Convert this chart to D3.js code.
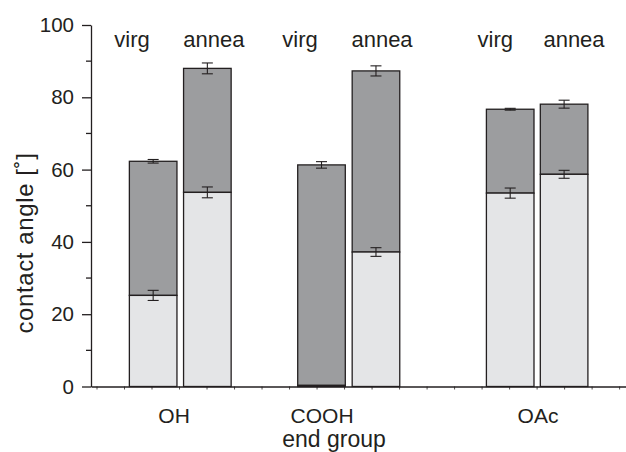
<!DOCTYPE html>
<html>
<head>
<meta charset="utf-8">
<script src="https://cdn.jsdelivr.net/npm/d3@7"></script>
<style>
  body { margin: 0; background: #fff; }
  text { font-family: "Liberation Sans", Arial, sans-serif; fill: #231f20; }
</style>
</head>
<body>
<svg id="chart" width="626" height="452"></svg>
<script>
// groups and bars
const groups = ['OH', 'COOH', 'OAc'];
const groupPos = [2.82, 8.2, 16.05];
const barNames = ['virg', 'annea', 'virg', 'annea', 'virg', 'annea'];
const barPos = [2.06, 4.03, 8.18, 10.16, 15.04, 17.0];
const namePos = [1.29, 4.27, 7.4, 10.38, 14.5, 17.36];

// light (lower) segment and its error
const lightVal = [25.2, 53.7, 0.3, 37.2, 53.5, 58.7];
const lightErr = [1.4, 1.5, 0, 1.2, 1.4, 1.1];
// total (dark top) and its error
const totalVal = [62.3, 88.0, 61.3, 87.3, 76.7, 78.1];
const totalErr = [0.5, 1.5, 0.9, 1.4, 0.25, 1.1];

const yTicks = [0, 20, 40, 60, 80, 100];
const yMinor = [10, 30, 50, 70, 90];

const COLORS = { dark: '#9c9d9f', light: '#e4e5e7', line: '#231f20' };

const M = { left: 91, right: 626, top: 25, bottom: 386.5 };
const BAR_W = 1.73;

const svg = d3.select('#chart');

const x = d3.scaleLinear().domain([-0.2, 19.25]).range([M.left, M.right]);
const y = d3.scaleLinear().domain([0, 100]).range([M.bottom, M.top]);

const bars = barPos.map((p, i) => ({
  pos: p, light: lightVal[i], lErr: lightErr[i], total: totalVal[i], tErr: totalErr[i]
}));

// dark segments
svg.append('g').selectAll('rect')
  .data(bars).enter().append('rect')
  .attr('x', d => x(d.pos - BAR_W / 2))
  .attr('width', d => x(d.pos + BAR_W / 2) - x(d.pos - BAR_W / 2))
  .attr('y', d => y(d.total))
  .attr('height', d => y(d.light) - y(d.total))
  .attr('fill', COLORS.dark)
  .attr('stroke', COLORS.line)
  .attr('stroke-width', 1.3);

// light segments
svg.append('g').selectAll('rect')
  .data(bars).enter().append('rect')
  .attr('x', d => x(d.pos - BAR_W / 2))
  .attr('width', d => x(d.pos + BAR_W / 2) - x(d.pos - BAR_W / 2))
  .attr('y', d => y(d.light))
  .attr('height', d => y(0) - y(d.light))
  .attr('fill', COLORS.light)
  .attr('stroke', COLORS.line)
  .attr('stroke-width', 1.3);

// error bars
function errBars(val, err) {
  const g = svg.append('g')
    .attr('stroke', COLORS.line)
    .attr('stroke-width', 1.1);
  const d = bars.filter(b => b[err] > 0);
  g.selectAll('.v').data(d).enter().append('line')
    .attr('x1', b => x(b.pos)).attr('x2', b => x(b.pos))
    .attr('y1', b => y(b[val] - b[err])).attr('y2', b => y(b[val] + b[err]));
  [-1, 1].forEach(s => {
    g.selectAll('.c' + s).data(d).enter().append('line')
      .attr('x1', b => x(b.pos) - 5.5).attr('x2', b => x(b.pos) + 5.5)
      .attr('y1', b => y(b[val] + s * b[err])).attr('y2', b => y(b[val] + s * b[err]));
  });
}
errBars('light', 'lErr');
errBars('total', 'tErr');

// y axis
const yAxis = d3.axisLeft(y).tickValues(yTicks).tickSize(9).tickSizeOuter(0).tickPadding(8);
const gy = svg.append('g').attr('transform', 'translate(' + M.left + ',0)').call(yAxis);
gy.selectAll('text').style('font-size', '20.5px').attr('fill', COLORS.line);
gy.selectAll('line, path').attr('stroke', COLORS.line).attr('stroke-width', 1.3);
gy.selectAll('.minor').data(yMinor).enter().append('line')
  .attr('x1', -5).attr('x2', 0)
  .attr('y1', d => y(d)).attr('y2', d => y(d))
  .attr('stroke', COLORS.line).attr('stroke-width', 1.3);

// x axis
const xAxis = d3.axisBottom(x).ticks(20).tickSize(3).tickSizeOuter(0).tickFormat('');
const gx = svg.append('g').attr('transform', 'translate(0,' + M.bottom + ')').call(xAxis);
gx.selectAll('line').attr('stroke', COLORS.line).attr('stroke-width', 0.8);
gx.select('path').attr('stroke', COLORS.line).attr('stroke-width', 1.3);

// group labels
svg.append('g').selectAll('text')
  .data(groups).enter().append('text')
  .attr('x', (d, i) => x(groupPos[i]))
  .attr('y', 423)
  .attr('text-anchor', 'middle')
  .style('font-size', '21px')
  .text(d => d);

// bar names at top
svg.append('g').selectAll('text')
  .data(barNames).enter().append('text')
  .attr('x', (d, i) => x(namePos[i]))
  .attr('y', 47)
  .attr('text-anchor', 'middle')
  .style('font-size', '22px')
  .text(d => d);

// axis titles
svg.append('text')
  .attr('x', 334).attr('y', 447)
  .attr('text-anchor', 'middle')
  .style('font-size', '23px')
  .text('end group');

svg.append('text')
  .attr('transform', 'translate(33,243) rotate(-90)')
  .attr('text-anchor', 'middle')
  .style('font-size', '24px')
  .style('letter-spacing', '0.6px')
  .text('contact angle [˚]');
</script>
</body>
</html>
